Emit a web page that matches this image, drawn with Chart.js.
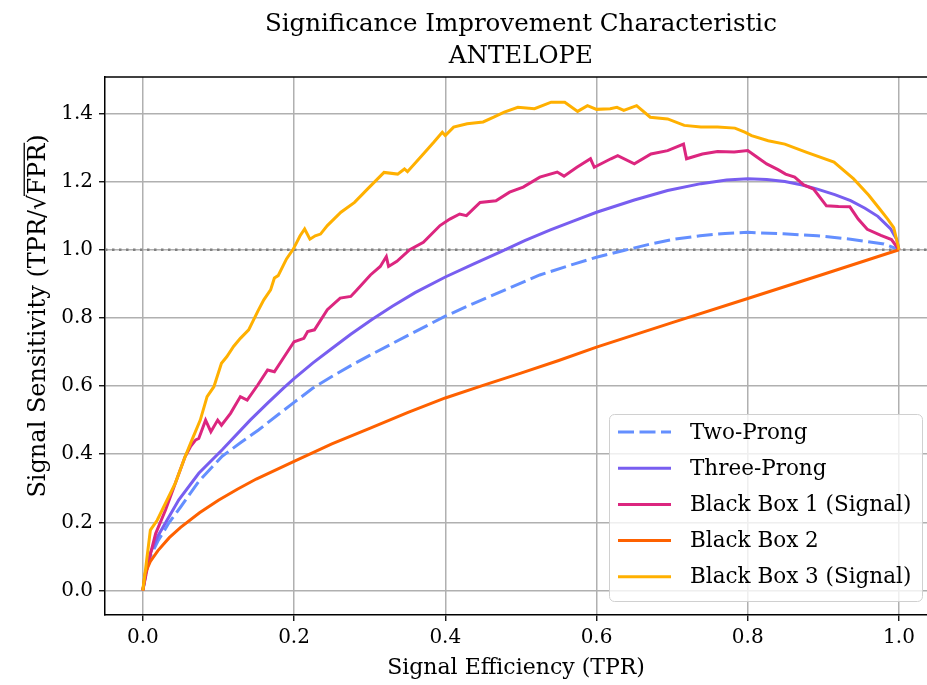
<!DOCTYPE html>
<html lang="en">
<head>
<meta charset="UTF-8" />
<title>Significance Improvement Characteristic</title>
<script src="https://cdn.jsdelivr.net/npm/chart.js"></script>
<style>
  html, body { margin: 0; padding: 0; background: #fff; overflow: hidden; }
</style>
</head>
<body>
<canvas id="sic" width="927" height="685"></canvas>
<script>
const SERIF = '"DejaVu Serif", "Liberation Serif", serif';

// axis ranges and ticks (x axis runs a little past the right edge)
const xRange = [-0.05, 1.037];
const yRange = [-0.072, 1.507];
const xTicks = [0, 0.2, 0.4, 0.6, 0.8, 1.0];
const yTicks = [0, 0.2, 0.4, 0.6, 0.8, 1.0, 1.2, 1.4];

const seriesNames = ['Two-Prong', 'Three-Prong', 'Black Box 1 (Signal)', 'Black Box 2', 'Black Box 3 (Signal)'];
const seriesColors = ['#648FFF', '#785EF0', '#DC267F', '#FE6100', '#FFB000'];

// signal efficiency (TPR) and sensitivity TPR/sqrt(FPR) per model
const twoProngTpr  = [0, 0.005, 0.01, 0.02, 0.035, 0.05, 0.074, 0.105, 0.13, 0.153, 0.18, 0.2, 0.225, 0.25, 0.275, 0.3, 0.35, 0.4, 0.437, 0.481, 0.525, 0.57, 0.6, 0.636, 0.67, 0.7, 0.737, 0.77, 0.8, 0.847, 0.892, 0.936, 0.98, 1.0];
const twoProngSens = [0, 0.06, 0.1, 0.145, 0.2, 0.245, 0.32, 0.394, 0.435, 0.471, 0.518, 0.552, 0.594, 0.628, 0.66, 0.69, 0.748, 0.805, 0.842, 0.884, 0.926, 0.958, 0.978, 0.998, 1.016, 1.03, 1.041, 1.048, 1.051, 1.047, 1.041, 1.031, 1.017, 1.0];

const threeProngTpr  = [0, 0.005, 0.01, 0.02, 0.0476, 0.074, 0.105, 0.142, 0.165, 0.186, 0.2, 0.225, 0.25, 0.275, 0.303, 0.33, 0.36, 0.4, 0.437, 0.473, 0.505, 0.539, 0.57, 0.6, 0.65, 0.694, 0.738, 0.772, 0.8, 0.825, 0.849, 0.872, 0.892, 0.915, 0.936, 0.955, 0.972, 0.989, 0.997, 1.0];
const threeProngSens = [0, 0.065, 0.11, 0.16, 0.266, 0.344, 0.413, 0.5, 0.55, 0.594, 0.622, 0.668, 0.71, 0.752, 0.795, 0.834, 0.874, 0.92, 0.958, 0.994, 1.027, 1.058, 1.085, 1.11, 1.146, 1.174, 1.194, 1.205, 1.208, 1.206, 1.2, 1.19, 1.178, 1.162, 1.144, 1.122, 1.098, 1.061, 1.03, 1.0];

const blackBox1Tpr  = [0, 0.008, 0.017, 0.03, 0.043, 0.056, 0.063, 0.07, 0.074, 0.083, 0.09, 0.099, 0.104, 0.116, 0.129, 0.138, 0.152, 0.165, 0.174, 0.187, 0.2, 0.213, 0.218, 0.227, 0.244, 0.261, 0.275, 0.283, 0.301, 0.314, 0.322, 0.325, 0.336, 0.353, 0.371, 0.393, 0.406, 0.419, 0.428, 0.446, 0.467, 0.485, 0.503, 0.525, 0.548, 0.557, 0.574, 0.592, 0.597, 0.619, 0.628, 0.65, 0.672, 0.694, 0.715, 0.719, 0.74, 0.76, 0.782, 0.8, 0.812, 0.825, 0.84, 0.85, 0.862, 0.874, 0.887, 0.904, 0.92, 0.935, 0.946, 0.958, 0.976, 0.99, 1.0];
const blackBox1Sens = [0, 0.089, 0.167, 0.236, 0.315, 0.393, 0.422, 0.442, 0.446, 0.5, 0.466, 0.5, 0.485, 0.52, 0.569, 0.559, 0.603, 0.647, 0.642, 0.686, 0.73, 0.74, 0.76, 0.765, 0.824, 0.858, 0.863, 0.882, 0.926, 0.951, 0.98, 0.951, 0.966, 1.0, 1.022, 1.071, 1.09, 1.105, 1.1, 1.139, 1.144, 1.169, 1.184, 1.213, 1.228, 1.216, 1.242, 1.267, 1.242, 1.267, 1.276, 1.252, 1.281, 1.291, 1.31, 1.267, 1.281, 1.288, 1.287, 1.291, 1.272, 1.252, 1.235, 1.222, 1.213, 1.19, 1.178, 1.129, 1.127, 1.126, 1.09, 1.06, 1.042, 1.03, 1.0];

const blackBox2Tpr  = [0, 0.003, 0.01, 0.02, 0.035, 0.05, 0.075, 0.1, 0.125, 0.15, 0.2, 0.25, 0.3, 0.35, 0.4, 0.45, 0.5, 0.55, 0.6, 0.7, 0.8, 0.9, 1.0];
const blackBox2Sens = [0, 0.05, 0.085, 0.117, 0.155, 0.185, 0.228, 0.265, 0.297, 0.327, 0.379, 0.43, 0.476, 0.522, 0.565, 0.602, 0.638, 0.675, 0.714, 0.786, 0.857, 0.928, 1.0];

const blackBox3Tpr  = [0, 0.004, 0.01, 0.019, 0.03, 0.043, 0.056, 0.065, 0.076, 0.085, 0.094, 0.104, 0.111, 0.12, 0.129, 0.14, 0.152, 0.16, 0.169, 0.174, 0.179, 0.19, 0.199, 0.208, 0.214, 0.221, 0.228, 0.235, 0.244, 0.262, 0.28, 0.297, 0.319, 0.337, 0.346, 0.35, 0.373, 0.385, 0.396, 0.4, 0.411, 0.429, 0.45, 0.464, 0.478, 0.496, 0.518, 0.54, 0.558, 0.575, 0.588, 0.6, 0.618, 0.627, 0.636, 0.653, 0.671, 0.694, 0.716, 0.738, 0.76, 0.783, 0.796, 0.805, 0.827, 0.849, 0.878, 0.914, 0.94, 0.96, 0.975, 0.985, 0.993, 1.0];
const blackBox3Sens = [0, 0.069, 0.177, 0.206, 0.256, 0.315, 0.393, 0.442, 0.5, 0.569, 0.598, 0.667, 0.686, 0.716, 0.74, 0.765, 0.819, 0.853, 0.882, 0.917, 0.924, 0.973, 1.002, 1.041, 1.061, 1.031, 1.041, 1.046, 1.071, 1.11, 1.139, 1.178, 1.227, 1.222, 1.237, 1.229, 1.286, 1.316, 1.345, 1.335, 1.36, 1.37, 1.375, 1.389, 1.404, 1.418, 1.414, 1.433, 1.433, 1.406, 1.423, 1.412, 1.414, 1.418, 1.409, 1.423, 1.389, 1.384, 1.365, 1.36, 1.36, 1.357, 1.345, 1.335, 1.32, 1.31, 1.286, 1.257, 1.208, 1.16, 1.118, 1.09, 1.065, 1.0];

// random-guess reference level
const baselineLevel = 1.0;

const curves = [
  [twoProngTpr, twoProngSens],
  [threeProngTpr, threeProngSens],
  [blackBox1Tpr, blackBox1Sens],
  [blackBox2Tpr, blackBox2Sens],
  [blackBox3Tpr, blackBox3Sens]
];
const DASH = [16, 5.5];

const pts = (xs, ys) => xs.map((x, i) => ({ x, y: ys[i] }));

const datasets = curves.map(([xs, ys], i) => ({
  label: seriesNames[i],
  data: pts(xs, ys),
  borderColor: seriesColors[i],
  borderWidth: 3,
  borderDash: i === 0 ? DASH : [],
  pointRadius: 0,
  tension: 0,
  fill: false,
  order: curves.length - i   // later series sit on top
}));
datasets.push({
  label: 'baseline',
  data: pts(xRange, [baselineLevel, baselineLevel]),
  borderColor: '#808080',
  borderWidth: 2.5,
  borderDash: [2.5, 4.5],
  pointRadius: 0,
  fill: false,
  order: 20
});

// title, y label with radical, legend box and the top spine
const decor = {
  id: 'decor',
  afterDatasetsDraw(chart) {
    const ctx = chart.ctx;
    const bx = 609.5, by = 414.5, bw = 313, bh = 187;
    ctx.save();
    ctx.beginPath();
    ctx.roundRect(bx, by, bw, bh, 5);
    ctx.fillStyle = 'rgba(255,255,255,0.8)';
    ctx.fill();
    ctx.strokeStyle = '#d0d0d0';
    ctx.lineWidth = 1;
    ctx.stroke();
    ctx.font = `21.5px ${SERIF}`;
    ctx.textBaseline = 'middle';
    ctx.fillStyle = '#000';
    seriesNames.forEach((name, i) => {
      const y = 432 + i * 36.2;
      ctx.beginPath();
      ctx.setLineDash(i === 0 ? DASH : []);
      ctx.strokeStyle = seriesColors[i];
      ctx.lineWidth = 3;
      ctx.moveTo(618, y);
      ctx.lineTo(671, y);
      ctx.stroke();
      ctx.fillText(name, 690, y + 1);
    });
    ctx.restore();
  },
  afterDraw(chart) {
    const ctx = chart.ctx;
    const area = chart.chartArea;
    ctx.save();
    ctx.strokeStyle = '#000';
    ctx.lineWidth = 1.5;
    ctx.beginPath();
    ctx.moveTo(area.left, area.top);
    ctx.lineTo(area.right, area.top);
    ctx.stroke();

    // title is centred on the full axes box, which ends at x = 1.05
    const xs = chart.scales.x;
    const cx = (area.left + xs.getPixelForValue(1.05)) / 2;
    ctx.fillStyle = '#000';
    ctx.textAlign = 'center';
    ctx.textBaseline = 'middle';
    ctx.font = `24.5px ${SERIF}`;
    ctx.fillText('Significance Improvement Characteristic', cx, 25);
    ctx.fillText('ANTELOPE', cx, 57);

    // rotated y label: Signal Sensitivity (TPR/√FPR)
    ctx.translate(39, 316);
    ctx.rotate(-Math.PI / 2);
    ctx.font = `24px ${SERIF}`;
    ctx.textAlign = 'left';
    const a = 'Signal Sensitivity (TPR/', r = '\u221A', b = 'FPR', c = ')';
    const w = s => ctx.measureText(s).width;
    let x = -(w(a) + w(r) + w(b) + w(c)) / 2;
    ctx.fillText(a, x, 0); x += w(a);
    ctx.fillText(r, x, 0);
    const capTop = ctx.measureText(b).actualBoundingBoxAscent;
    const barY = -Math.max(ctx.measureText(r).actualBoundingBoxAscent - 0.6, capTop + 3);
    x += w(r);
    ctx.fillText(b, x, 0);
    ctx.lineWidth = 1.3;
    ctx.beginPath();
    ctx.moveTo(x - 1.5, barY);
    ctx.lineTo(x + w(b) + 1, barY);
    ctx.stroke();
    x += w(b);
    ctx.fillText(c, x, 0);
    ctx.restore();
  }
};

const tickFont = { family: SERIF, size: 20 };
const gridOpts = { color: '#b0b0b0', lineWidth: 1.5, tickColor: '#000', tickLength: 6, tickWidth: 1.3 };

new Chart(document.getElementById('sic'), {
  type: 'line',
  data: { datasets },
  options: {
    responsive: false,
    animation: false,
    devicePixelRatio: 1,
    layout: { padding: { top: 77, right: 0, left: 0, bottom: 0 } },
    plugins: { legend: { display: false }, title: { display: false }, tooltip: { enabled: false } },
    scales: {
      x: {
        type: 'linear',
        min: xRange[0], max: xRange[1],
        afterBuildTicks: s => { s.ticks = xTicks.map(v => ({ value: v })); },
        afterFit: s => { s.height = 70; },
        ticks: { callback: v => v.toFixed(1), font: tickFont, color: '#000', padding: 5, maxRotation: 0, autoSkip: false },
        grid: gridOpts,
        border: { color: '#000', width: 1.5 },
        title: { display: true, text: 'Signal Efficiency (TPR)', font: { family: SERIF, size: 22 }, color: '#000', padding: { top: 0, bottom: 4 } }
      },
      y: {
        type: 'linear',
        min: yRange[0], max: yRange[1],
        afterBuildTicks: s => { s.ticks = yTicks.map(v => ({ value: v })); },
        afterFit: s => { s.width = 105; },
        ticks: { callback: v => v.toFixed(1), font: tickFont, color: '#000', padding: 6, autoSkip: false },
        grid: gridOpts,
        border: { color: '#000', width: 1.5 }
      }
    }
  },
  plugins: [decor]
});
</script>
</body>
</html>
